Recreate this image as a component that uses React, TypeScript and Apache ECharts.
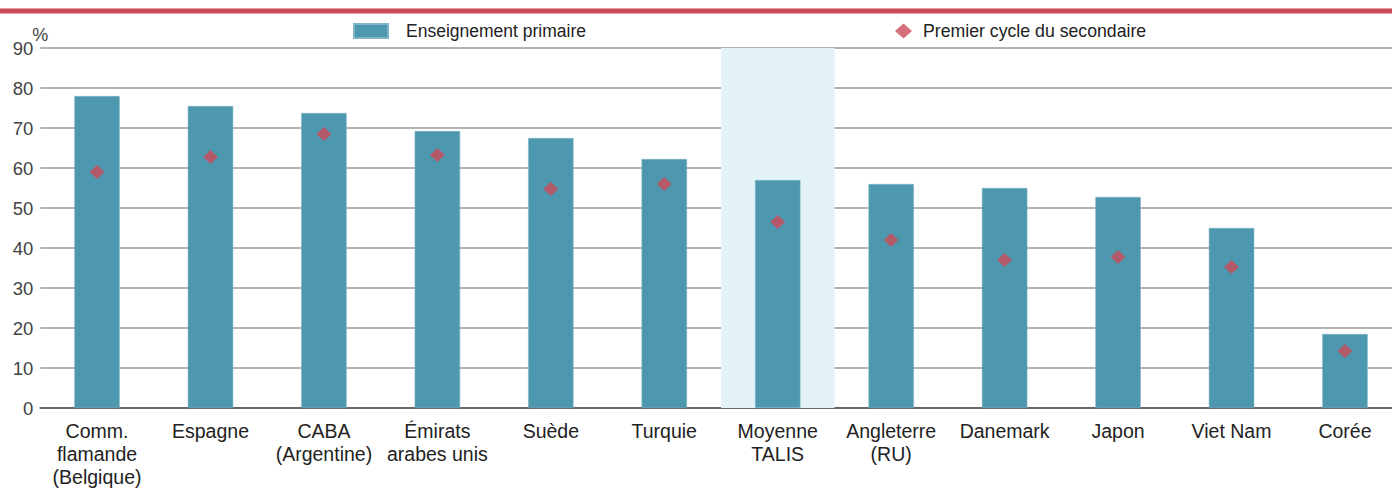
import React, { useEffect, useRef } from "react";
import * as echarts from "echarts";

const categories = [
  "Comm.\nflamande\n(Belgique)",
  "Espagne",
  "CABA\n(Argentine)",
  "Émirats\narabes unis",
  "Suède",
  "Turquie",
  "Moyenne\nTALIS",
  "Angleterre\n(RU)",
  "Danemark",
  "Japon",
  "Viet Nam",
  "Corée",
];
const primaire = [78, 75.5, 73.75, 69.25, 67.5, 62.25, 57, 56, 55, 52.75, 45, 18.5];
const secondaire = [59, 62.75, 68.5, 63.25, 54.75, 56, 46.5, 42, 37, 37.75, 35.25, 14.25];
const highlight = [null, null, null, null, null, null, 90, null, null, null, null, null];
const yTicks = { min: 0, max: 90, interval: 10 };

const FONT = "'Liberation Sans', Arial, sans-serif";

export default function App() {
  const ref = useRef<HTMLDivElement>(null);
  useEffect(() => {
    const chart = echarts.init(ref.current!, null, { renderer: "svg" });
    chart.setOption({
      animation: false,
      textStyle: { fontFamily: FONT },
      graphic: [
        { type: "rect", left: 0, top: 8, shape: { width: 1392, height: 1.5 }, style: { fill: "#e7a3a9" } },
        { type: "rect", left: 0, top: 9, shape: { width: 1392, height: 4.5 }, style: { fill: "#cc4b57" } },
      ],
      legend: [
        {
          left: 353,
          top: 22,
          padding: 0,
          itemWidth: 34,
          itemHeight: 14,
          itemGap: 0,
          data: [{ name: "Enseignement primaire", icon: "rect" }],
          textStyle: { fontSize: 17.5, color: "#222", fontFamily: FONT, padding: [0, 0, 0, 13] },
        },
        {
          left: 895,
          top: 22,
          padding: 0,
          itemWidth: 17,
          itemHeight: 15,
          data: [{ name: "Premier cycle du secondaire", icon: "diamond" }],
          textStyle: { fontSize: 17.7, color: "#222", fontFamily: FONT, padding: [0, 0, 0, 6] },
        },
      ],
      grid: {
        left: 40.3,
        right: -9.7,
        top: 48,
        bottom: 80,
        containLabel: false,
        outerBoundsMode: "none",
      },
      xAxis: [
        {
          type: "category",
          data: categories,
          axisLine: { show: true, lineStyle: { color: "#666", width: 2 } },
          axisTick: { show: false },
          axisLabel: {
            interval: 0,
            fontSize: 19.5,
            color: "#222",
            lineHeight: 23,
            margin: 11,
            fontFamily: FONT,
          },
        },
        {
          type: "category",
          data: categories,
          show: false,
        },
      ],
      yAxis: {
        type: "value",
        min: yTicks.min,
        max: yTicks.max,
        interval: yTicks.interval,
        name: "%",
        nameLocation: "end",
        nameGap: 4,
        nameMoveOverlap: false,
        nameTextStyle: { fontSize: 18, color: "#444", align: "center", fontFamily: FONT },
        axisLine: { show: false },
        axisTick: { show: false },
        axisLabel: { fontSize: 18.5, color: "#444", margin: 7, fontFamily: FONT },
        splitLine: { lineStyle: { color: "#9a9a9a", width: 1.5 } },
      },
      series: [
        {
          name: "band",
          type: "bar",
          xAxisIndex: 1,
          data: highlight,
          barWidth: "100%",
          itemStyle: { color: "#e4f3f7" },
          z: 0,
          silent: true,
        },
        {
          name: "Enseignement primaire",
          type: "bar",
          xAxisIndex: 0,
          data: primaire,
          barWidth: "40%",
          itemStyle: { color: "#4d98ae", borderColor: "#7fb5c6", borderWidth: 0.5 },
          z: 2,
        },
        {
          name: "Premier cycle du secondaire",
          type: "scatter",
          xAxisIndex: 0,
          data: secondaire,
          symbol: "diamond",
          symbolSize: [15, 14],
          itemStyle: { color: "#cc4b57" },
          z: 3,
        },
      ],
    });
    return () => chart.dispose();
  }, []);
  return <div ref={ref} style={{ width: 1392, height: 488, position: "absolute", left: 0, top: 0 }} />;
}
